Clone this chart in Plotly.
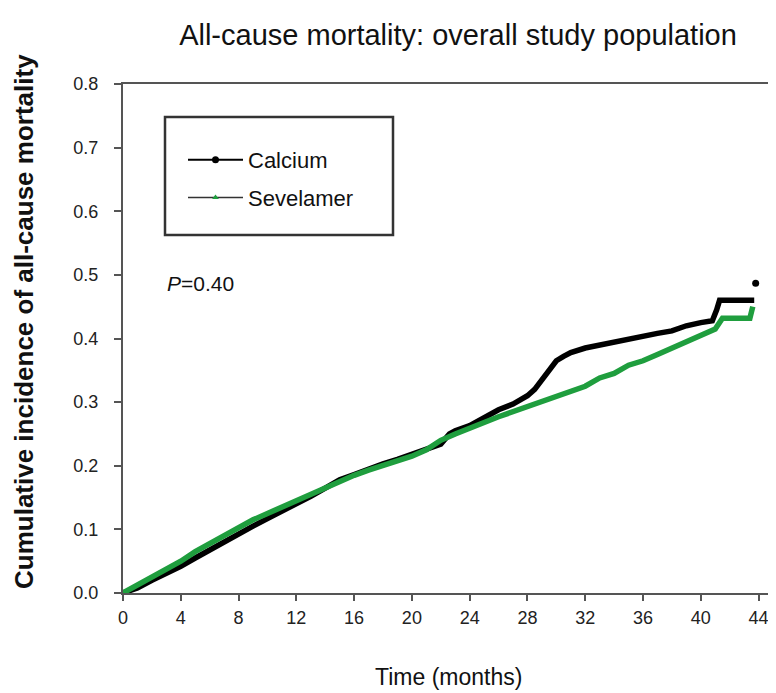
import plotly.graph_objects as go

# ---- data ----
calcium_t = [0, 1, 2, 3, 4, 5, 6, 7, 8, 9, 10, 11, 12, 13, 14, 15, 16, 17, 18, 19, 20, 21, 22, 22.6,
             23, 24, 25, 26, 27, 28, 28.5, 29, 29.5, 30, 30.5, 31, 32, 33, 34, 35, 36, 37, 38, 39, 40,
             40.8, 41.1, 41.3, 42, 43, 43.7]
calcium_v = [0, 0.008, 0.02, 0.03, 0.042, 0.055, 0.068, 0.08, 0.092, 0.105, 0.117, 0.128, 0.14, 0.152,
             0.165, 0.178, 0.186, 0.195, 0.203, 0.21, 0.218, 0.226, 0.234, 0.25, 0.255, 0.263, 0.275,
             0.288, 0.297, 0.31, 0.32, 0.335, 0.35, 0.365, 0.372, 0.378, 0.385, 0.39, 0.395, 0.4, 0.405,
             0.408, 0.412, 0.42, 0.425, 0.428, 0.445, 0.46, 0.46, 0.46, 0.46]
calcium_last_t = [43.8]
calcium_last_v = [0.487]

sevelamer_t = [0, 1, 2, 3, 4, 5, 6, 7, 8, 9, 10, 11, 12, 13, 14, 15, 16, 17, 18, 19, 20, 21, 22, 23,
               24, 25, 26, 27, 28, 29, 30, 31, 32, 33, 34, 35, 36, 37, 38, 39, 40, 41, 41.5, 42, 43,
               43.4, 43.6]
sevelamer_v = [0, 0.012, 0.025, 0.038, 0.05, 0.065, 0.078, 0.09, 0.103, 0.115, 0.125, 0.135, 0.145,
               0.155, 0.167, 0.176, 0.185, 0.193, 0.2, 0.207, 0.215, 0.225, 0.24, 0.25, 0.26, 0.268,
               0.277, 0.285, 0.292, 0.3, 0.307, 0.315, 0.325, 0.338, 0.345, 0.358, 0.365, 0.375, 0.385,
               0.393, 0.403, 0.415, 0.432, 0.432, 0.432, 0.432, 0.45]

x_ticks = [0, 4, 8, 12, 16, 20, 24, 28, 32, 36, 40, 44]
y_ticks = [0.0, 0.1, 0.2, 0.3, 0.4, 0.5, 0.6, 0.7, 0.8]

BLACK = "#000000"
GREEN = "#1f9e3e"
FRAME = "#555555"
FONT = "Liberation Sans"

# the page body has an 8px margin; the figure is sized to fit the window
W, H = 768, 685
L, R, T, B = 115, 3, 76, 100
PW, PH = W - L - R, H - T - B


def px_x(x):   # page pixel -> paper x
    return (x - 8 - L) / PW


def px_y(y):   # page pixel -> paper y
    return (H - B - (y - 8)) / PH


fig = go.Figure()

fig.add_trace(go.Scatter(x=calcium_t, y=calcium_v, mode="lines", showlegend=False,
                         line=dict(color=BLACK, width=5.5), hoverinfo="skip"))
fig.add_trace(go.Scatter(x=sevelamer_t, y=sevelamer_v, mode="lines", showlegend=False,
                         line=dict(color=GREEN, width=5.5), hoverinfo="skip"))
fig.add_trace(go.Scatter(x=calcium_last_t, y=calcium_last_v, mode="markers", showlegend=False,
                         marker=dict(color=BLACK, size=7), hoverinfo="skip"))

# legend entries
fig.add_trace(go.Scatter(x=[None], y=[None], mode="lines+markers", name="Calcium",
                         legendgroup="a",
                         line=dict(color=BLACK, width=2), marker=dict(color=BLACK, size=7)))
fig.add_trace(go.Scatter(x=[None], y=[None], mode="lines+markers", name="Sevelamer",
                         legendgroup="b",
                         line=dict(color="#333333", width=1.5),
                         marker=dict(color=GREEN, size=6, symbol="triangle-up")))

axis_common = dict(showline=True, linecolor=FRAME, linewidth=2, mirror=True,
                   ticks="outside", tickcolor=FRAME, tickwidth=1.5, showgrid=False,
                   zeroline=False, automargin=False,
                   tickfont=dict(family=FONT, size=18, color="#222222"))

fig.update_xaxes(range=[0, 45], tickvals=x_ticks, ticklen=6, ticklabelstandoff=1, **axis_common)
fig.update_yaxes(range=[0, 0.8], tickvals=y_ticks, tickformat=".1f", ticklen=7,
                 ticklabelstandoff=12, **axis_common)

fig.update_layout(
    width=W, height=H,
    margin=dict(l=L, r=R, t=T, b=B),
    paper_bgcolor="white", plot_bgcolor="white",
    font=dict(family=FONT, color="#111111"),
    title=dict(text="All-cause mortality: overall study population",
               x=(458 - 8) / W, xref="container", xanchor="center",
               y=1 - (35 - 8) / H, yref="container", yanchor="middle", automargin=False,
               font=dict(family=FONT, size=29, color="#111111")),
    legend=dict(x=px_x(183), y=px_y(139), xanchor="left", yanchor="top",
                bgcolor="rgba(0,0,0,0)", borderwidth=0, itemwidth=55,
                traceorder="grouped", tracegroupgap=6,
                font=dict(family=FONT, size=22, color="#111111")),
    shapes=[dict(type="rect", xref="paper", yref="paper",
                 x0=px_x(165), x1=px_x(393), y0=px_y(235), y1=px_y(117),
                 line=dict(color="#333333", width=2.5), fillcolor="rgba(0,0,0,0)")],
    annotations=[
        dict(text="<i>P</i>=0.40", xref="paper", yref="paper",
             x=px_x(165), y=px_y(283), xanchor="left", yanchor="middle",
             showarrow=False, font=dict(family=FONT, size=21, color="#111111")),
        dict(text="Time (months)", xref="paper", yref="paper",
             x=px_x(448), y=px_y(677), xanchor="center", yanchor="middle",
             showarrow=False, font=dict(family=FONT, size=23, color="#111111")),
        dict(text="<b>Cumulative incidence of all-cause mortality</b>", xref="paper", yref="paper",
             x=px_x(24), y=px_y(322), xanchor="center", yanchor="middle",
             textangle=-90, showarrow=False,
             font=dict(family=FONT, size=26, color="#111111")),
    ],
)

fig.write_html("out.html")
